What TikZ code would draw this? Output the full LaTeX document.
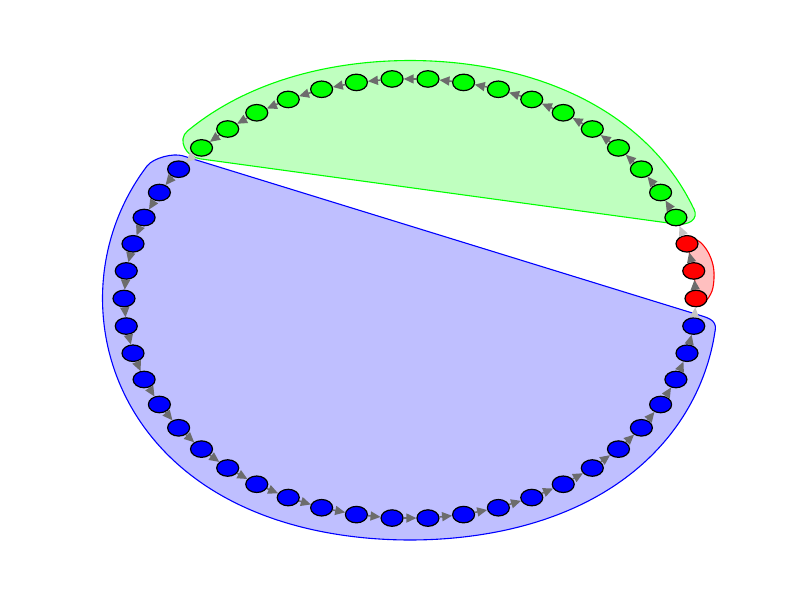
\documentclass[tikz,border=0pt]{standalone}
\usetikzlibrary{shapes.geometric,arrows.meta}
\definecolor{bluefill}{RGB}{191,191,255}
\definecolor{greenfill}{RGB}{191,255,191}
\definecolor{redfill}{RGB}{255,191,191}
\definecolor{inedgecol}{RGB}{108,108,108}
\definecolor{xedgecol}{RGB}{196,196,196}
\tikzset{
  vtx/.style={ellipse, draw=black, line width=1.2pt, minimum width=22pt, minimum height=16.5pt, inner sep=0pt},
  hull/.style={line width=1.1pt, line join=round},
  inedge/.style={draw=inedgecol, line width=1.5pt, -{Triangle[length=10pt,width=9pt]}},
  xedge/.style={draw=xedgecol, line width=1.5pt, -{Triangle[length=10pt,width=9pt]}}
}
% offset point of the ring ellipse: #1 angle, #2 offset
\newcommand*{\hx}[2]{410+286*cos(#1)+(#2)*2.2*cos(#1)/veclen(2.2*cos(#1),2.86*sin(#1))}
\newcommand*{\hy}[2]{298.5-220*sin(#1)-(#2)*2.86*sin(#1)/veclen(2.2*cos(#1),2.86*sin(#1))}
\begin{document}
\begin{tikzpicture}[x=1pt,y=-1pt]
\useasboundingbox (0,0) rectangle (800,600);
% blue group hull
\draw[hull, draw=blue, fill=bluefill]
  (182.7,155.8) .. controls (173.1,152.9) and (153.7,157.8) .. (147.4,165.6)
  -- plot[variable=\t, domain=148:352.8, samples=80, smooth]
     ({\hx{\t}{21.5+5.5*pow(sin(2*\t),2)}},{\hy{\t}{21.5+5.5*pow(sin(2*\t),2)}})
  .. controls (716.8,319.6) and (706.8,317.4) .. (697.2,314.5) -- cycle;
% green group hull
\draw[hull, draw=green, fill=greenfill]
  (675,223.9) .. controls (687.9,225.8) and (699.6,219.9) .. (693.7,208.3)
  -- plot[variable=\t, domain=21.6:136.8, samples=60, smooth]
     ({\hx{\t}{18+4*pow(sin(2*\t),2)}},{\hy{\t}{18+4*pow(sin(2*\t),2)}})
  .. controls (176.8,139.8) and (186,156.8) .. (199.9,158.8) -- cycle;
% red group hull
\draw[hull, draw=red, fill=redfill] plot[smooth, tension=0.6] coordinates {
 (690,237) (700,242) (708,252) (713,265) (714,278) (712,291) (706,301) (701,304)}
 -- (696,299) -- (694,271) -- (687,244) -- cycle;
% vertices
\foreach \k in {0,...,49}{
  \ifnum\k<3 \def\vc{red}\else\ifnum\k<20 \def\vc{green}\else\def\vc{blue}\fi\fi
  \node[vtx, fill=\vc] (n\k) at ({410+286*cos(7.2*\k)},{298.5-220*sin(7.2*\k)}) {};
}
% edges
\foreach \k in {0,...,49}{
  \pgfmathtruncatemacro{\nx}{mod(\k+1,50)}
  \pgfmathtruncatemacro{\cross}{(\k==2)||(\k==19)||(\k==49)}
  \ifnum\cross=1
    \draw[xedge] (n\k) -- (n\nx);
  \else
    \draw[inedge] (n\k) -- (n\nx);
  \fi
}
\end{tikzpicture}
\end{document}
